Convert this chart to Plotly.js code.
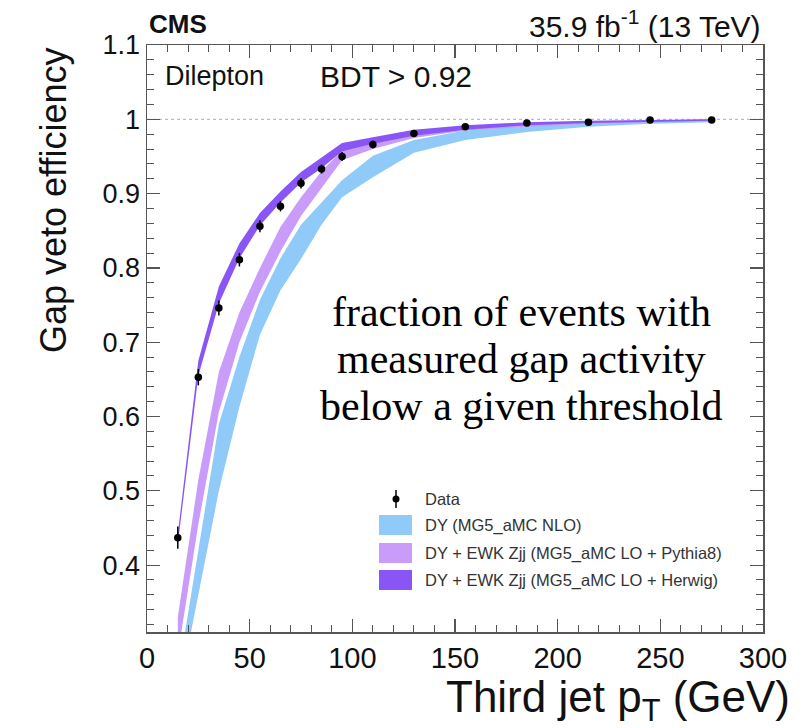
<!DOCTYPE html>
<html><head><meta charset="utf-8">
<script src="https://cdn.plot.ly/plotly-3.0.1.min.js"></script>
<style>html,body{margin:0;padding:0;background:#fff}</style>
</head><body><div id="chart" style="width:802px;height:728px"></div>
<script>
// Data: third jet pT bin centres (GeV)
const ptBins = [15, 25, 35, 45, 55, 65, 75, 85, 95, 110, 130, 155, 185, 215, 245, 275];
const dataEff = [0.437, 0.653, 0.746, 0.811, 0.856, 0.883, 0.914, 0.933, 0.950, 0.966, 0.981, 0.990, 0.995, 0.996, 0.999, 0.999];
const dataErr = [0.015, 0.011, 0.010, 0.009, 0.008, 0.007, 0.007, 0.006, 0.006, 0.005, 0.004, 0.003, 0.003, 0.002, 0.002, 0.002];

// DY (MG5_aMC NLO) band
const dyLow  = [0.22, 0.36, 0.50, 0.613, 0.71, 0.77, 0.812, 0.858, 0.895, 0.922, 0.955, 0.972, 0.983, 0.990, 0.994, 0.996];
const dyHigh = [0.25, 0.417, 0.59, 0.68, 0.757, 0.813, 0.858, 0.888, 0.918, 0.951, 0.972, 0.985, 0.992, 0.996, 0.998, 1.000];

// DY + EWK Zjj (MG5_aMC LO + Pythia8) band
const pyLow  = [0.28, 0.455, 0.606, 0.70, 0.768, 0.822, 0.870, 0.908, 0.945, 0.960, 0.975, 0.985, 0.990, 0.994, 0.996, 0.998];
const pyHigh = [0.33, 0.515, 0.66, 0.74, 0.80, 0.855, 0.895, 0.93, 0.958, 0.970, 0.982, 0.990, 0.995, 0.997, 0.999, 1.000];

// DY + EWK Zjj (MG5_aMC LO + Herwig) band
const hwLow  = [0.428, 0.655, 0.752, 0.813, 0.857, 0.888, 0.915, 0.934, 0.957, 0.967, 0.978, 0.986, 0.992, 0.995, 0.997, 0.998];
const hwHigh = [0.442, 0.675, 0.775, 0.833, 0.874, 0.903, 0.929, 0.948, 0.968, 0.976, 0.986, 0.992, 0.996, 0.998, 0.999, 1.000];

const seriesNames = ["Data", "DY (MG5_aMC NLO)", "DY + EWK Zjj (MG5_aMC LO + Pythia8)", "DY + EWK Zjj (MG5_aMC LO + Herwig)"];
const bandColors = ['#8fcaf9', '#c89cf8', '#8a55f5'];
const xTickVals = [0, 50, 100, 150, 200, 250, 300];
const noteLines = ['fraction of events with', 'measured gap activity', 'below a given threshold'];

function band(lo, hi, name, color) {
  return {
    x: ptBins.concat(ptBins.slice().reverse()),
    y: hi.concat(lo.slice().reverse()),
    type: 'scatter', mode: 'lines', fill: 'toself',
    fillcolor: color, line: {width: 0, color: color},
    name: name, hoverinfo: 'skip', showlegend: false
  };
}

const traces = [
  band(dyLow, dyHigh, seriesNames[1], bandColors[0]),
  band(pyLow, pyHigh, seriesNames[2], bandColors[1]),
  band(hwLow, hwHigh, seriesNames[3], bandColors[2]),
  {
    x: ptBins, y: dataEff, type: 'scatter', mode: 'markers', name: seriesNames[0], showlegend: false,
    marker: {color: '#000', size: 7.5},
    error_y: {type: 'data', array: dataErr, visible: true, color: '#000', thickness: 1.5, width: 0}
  }
];

// pixel helpers for decorative layout (legend key, texts) in paper coordinates
const L = 147, R = 763, T = 45, B = 632;
const px = v => (v - L) / (R - L);
const py = v => (B - v) / (B - T);

const sans = 'Liberation Sans, Arial, sans-serif';
const shapes = [
  {type: 'line', xref: 'x', yref: 'y', x0: 0, x1: 300, y0: 1, y1: 1, line: {color: '#aaa', width: 1, dash: 'dot'}, layer: 'below'}
];
const annotations = [];

// legend key
const rowY = [499, 525, 553, 580];
shapes.push({type: 'line', xref: 'paper', yref: 'paper', x0: px(396), x1: px(396), y0: py(508), y1: py(490), line: {color: '#000', width: 1.5}});
shapes.push({type: 'circle', xref: 'paper', yref: 'paper', x0: px(392.5), x1: px(399.5), y0: py(502.5), y1: py(495.5), fillcolor: '#000', line: {color: '#000', width: 0}});
for (let i = 0; i < 3; i++) {
  shapes.push({type: 'rect', xref: 'paper', yref: 'paper', x0: px(379), x1: px(412), y0: py(rowY[i + 1] + 10), y1: py(rowY[i + 1] - 10),
               fillcolor: bandColors[i], line: {width: 0}});
}
for (let i = 0; i < 4; i++) {
  annotations.push({text: seriesNames[i], xref: 'paper', yref: 'paper', x: px(423), y: py(rowY[i]), xanchor: 'left', yanchor: 'middle',
                    showarrow: false, font: {family: sans, size: 16.5, color: '#333'}});
}

annotations.push(
  {text: '<b>CMS</b>', xref: 'paper', yref: 'paper', x: 0, y: 1, xanchor: 'left', yanchor: 'bottom', yshift: 4, showarrow: false,
   font: {family: sans, size: 26, color: '#111'}},
  {text: '35.9 fb<sup>-1</sup> (13 TeV)', xref: 'paper', yref: 'paper', x: 1, y: 1, xanchor: 'right', yanchor: 'bottom', yshift: 0, showarrow: false,
   font: {family: sans, size: 30, color: '#111'}},
  {text: 'Dilepton', xref: 'paper', yref: 'paper', x: px(163), y: py(76), xanchor: 'left', yanchor: 'middle', showarrow: false,
   font: {family: sans, size: 27, color: '#111'}},
  {text: 'BDT > 0.92', xref: 'paper', yref: 'paper', x: px(318), y: py(76), xanchor: 'left', yanchor: 'middle', showarrow: false,
   font: {family: sans, size: 30, color: '#111'}},
  {text: 'Gap veto efficiency', xref: 'paper', yref: 'paper', x: px(53), y: py(45), xanchor: 'center', yanchor: 'top', textangle: -90,
   showarrow: false, font: {family: sans, size: 36, color: '#111'}},
  {text: 'Third jet p<sub>T</sub> (GeV)', xref: 'paper', yref: 'paper', x: px(792), y: py(700), xanchor: 'right', yanchor: 'middle',
   showarrow: false, font: {family: sans, size: 44, color: '#111'}}
);
const noteY = [312, 359, 406];
for (let i = 0; i < 3; i++) {
  annotations.push({text: noteLines[i], xref: 'paper', yref: 'paper', x: px(521), y: py(noteY[i]), xanchor: 'center', yanchor: 'middle',
                    showarrow: false, font: {family: 'Liberation Serif, Times New Roman, serif', size: 42, color: '#000'}});
}

const layout = {
  width: 802, height: 728,
  margin: {l: L, r: 802 - R, t: T, b: 728 - B},
  paper_bgcolor: '#fff', plot_bgcolor: '#fff',
  showlegend: false,
  xaxis: {range: [0, 300], tickvals: xTickVals, ticks: 'inside', ticklen: 13, tickwidth: 1.2, tickcolor: '#555',
          minor: {dtick: 10, ticks: 'inside', ticklen: 7, tickcolor: '#555', tickwidth: 1},
          showgrid: false, zeroline: false, showline: true, linecolor: '#555', linewidth: 1.5, mirror: 'ticks',
          tickfont: {family: sans, size: 29, color: '#111'}},
  yaxis: {range: [0.31, 1.1], dtick: 0.1, tick0: 0, ticks: 'inside', ticklen: 13, tickwidth: 1.2, tickcolor: '#555',
          minor: {dtick: 0.02, ticks: 'inside', ticklen: 7, tickcolor: '#555', tickwidth: 1},
          showgrid: false, zeroline: false, showline: true, linecolor: '#555', linewidth: 1.5, mirror: 'ticks',
          tickfont: {family: sans, size: 27, color: '#111'}},
  shapes: shapes,
  annotations: annotations
};

Plotly.newPlot('chart', traces, layout, {displayModeBar: false, staticPlot: true});
</script>
</body></html>
